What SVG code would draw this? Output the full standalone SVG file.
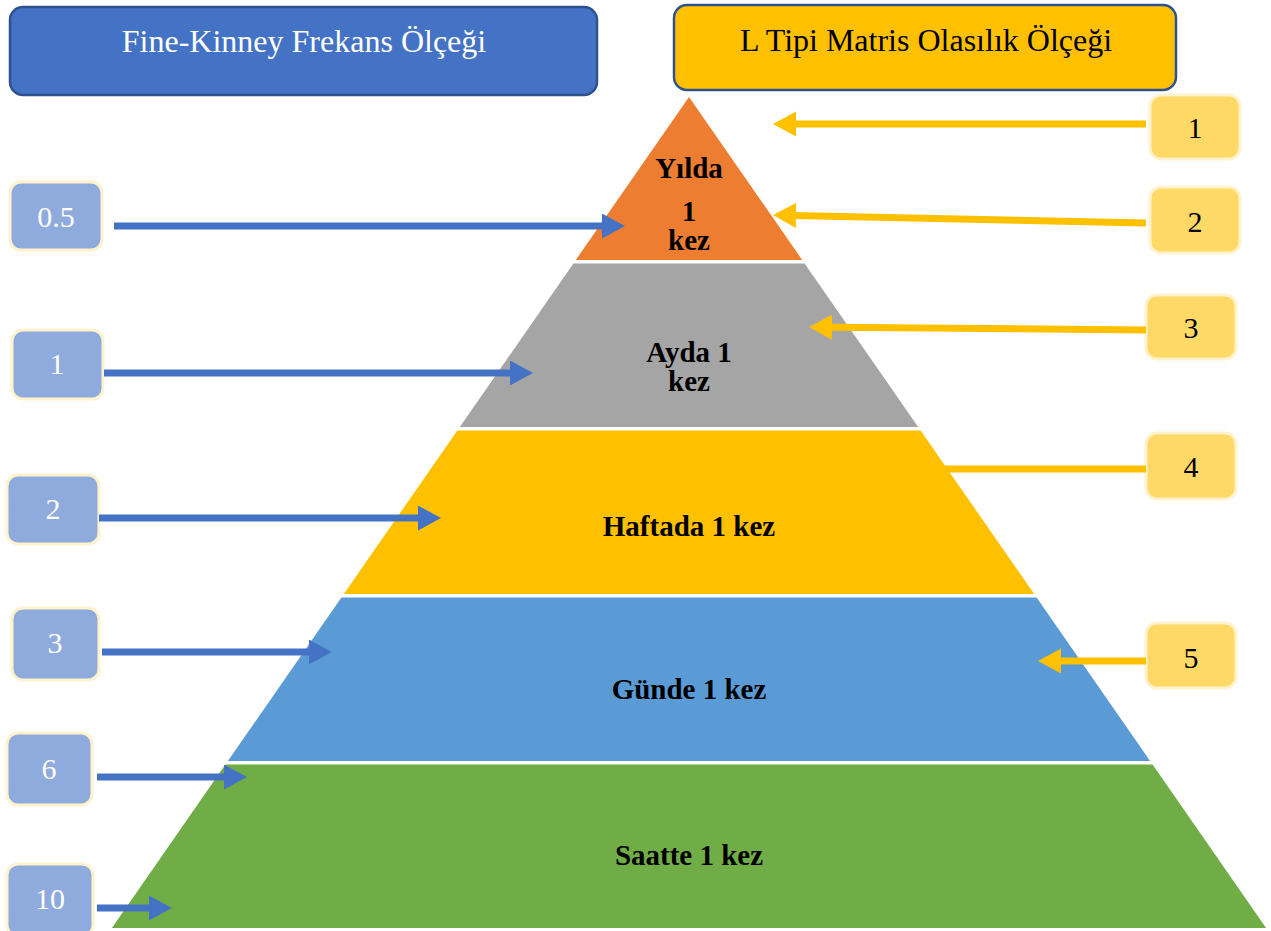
<svg xmlns="http://www.w3.org/2000/svg" width="1271" height="931" viewBox="0 0 1271 931">
<style>
.hdr{stroke:#2F528F;stroke-width:2.5}
.lb{fill:#8FAADC;stroke:#FFF2CC;stroke-width:3}
.rb{fill:#FFD966;stroke:#FFF2CC;stroke-width:3}
.t{font-family:"Liberation Serif","Times New Roman",serif;text-anchor:middle}
.lt{fill:#FFFFFF;font-size:30px}
.rt{fill:#000000;font-size:30px}
.bt{fill:#000000;font-size:29px;font-weight:bold}
.ca{stroke:#4472C4;stroke-width:7;fill:none}
.cy{stroke:#FFC000;stroke-width:7;fill:none}
</style>
<defs>
<marker id="ab" markerUnits="userSpaceOnUse" markerWidth="26" markerHeight="26" refX="2" refY="12.5" orient="auto">
<path d="M0,0 L23,12.5 L0,25 z" fill="#4472C4"/>
</marker>
<marker id="ay" markerUnits="userSpaceOnUse" markerWidth="26" markerHeight="26" refX="2" refY="12.5" orient="auto">
<path d="M0,0 L23,12.5 L0,25 z" fill="#FFC000"/>
</marker>
</defs>
<rect width="1271" height="931" fill="#FFFFFF"/>

<g id="header-fine-kinney">
<rect class="hdr" x="10" y="7" width="587" height="88" rx="13" fill="#4472C4"/>
<text class="t" x="304" y="52" fill="#FFFFFF" font-size="32">Fine-Kinney Frekans Ölçeği</text>
</g>
<g id="header-l-tipi">
<rect class="hdr" x="674" y="5" width="502" height="85" rx="13" fill="#FFC000"/>
<text class="t" x="926" y="51" fill="#000000" font-size="32">L Tipi Matris Olasılık Ölçeği</text>
</g>

<g id="band-yilda">
<polygon points="689,97 802.2,260 575.8,260" fill="#ED7D31"/>
<text class="t bt" x="689" y="178">Yılda</text>
<text class="t bt" x="689" y="221">1</text>
<text class="t bt" x="689" y="250">kez</text>
</g>
<g id="band-ayda">
<polygon points="573.4,263.5 804.6,263.5 918.2,427 459.8,427" fill="#A5A5A5"/>
<text class="t bt" x="689" y="362">Ayda 1</text>
<text class="t bt" x="689" y="391">kez</text>
</g>
<g id="band-haftada">
<polygon points="457.4,430.5 920.6,430.5 1034.2,594 343.8,594" fill="#FFC000"/>
<text class="t bt" x="689" y="536">Haftada 1 kez</text>
</g>
<g id="band-gunde">
<polygon points="341.4,597.5 1036.6,597.5 1150.1,761 227.9,761" fill="#5B9BD5"/>
<text class="t bt" x="689" y="699">Günde 1 kez</text>
</g>
<g id="band-saatte">
<polygon points="225.4,764.5 1152.6,764.5 1266.1,928 111.9,928" fill="#70AD47"/>
<text class="t bt" x="689" y="865">Saatte 1 kez</text>
</g>

<g id="fk-0-5"><rect class="lb" x="10" y="182" width="92" height="68" rx="11"/><text class="t lt" x="56" y="227">0.5</text></g>
<g id="fk-1"><rect class="lb" x="12" y="330" width="91" height="69" rx="11"/><text class="t lt" x="57" y="374">1</text></g>
<g id="fk-2"><rect class="lb" x="7" y="475" width="92" height="69" rx="11"/><text class="t lt" x="53" y="519">2</text></g>
<g id="fk-3"><rect class="lb" x="12" y="608" width="87" height="72" rx="11"/><text class="t lt" x="55" y="653">3</text></g>
<g id="fk-6"><rect class="lb" x="7" y="733" width="85" height="72" rx="11"/><text class="t lt" x="49" y="779">6</text></g>
<g id="fk-10"><rect class="lb" x="7" y="864" width="86" height="72" rx="11"/><text class="t lt" x="50" y="909">10</text></g>

<g id="lm-1"><rect class="rb" x="1150" y="95" width="90" height="64" rx="11"/><text class="t rt" x="1195" y="138">1</text></g>
<g id="lm-2"><rect class="rb" x="1150" y="187" width="90" height="66" rx="11"/><text class="t rt" x="1195" y="232">2</text></g>
<g id="lm-3"><rect class="rb" x="1146" y="295" width="90" height="64" rx="11"/><text class="t rt" x="1191" y="338">3</text></g>
<g id="lm-4"><rect class="rb" x="1146" y="433" width="90" height="66" rx="11"/><text class="t rt" x="1191" y="477">4</text></g>
<g id="lm-5"><rect class="rb" x="1146" y="623" width="90" height="65" rx="11"/><text class="t rt" x="1191" y="668">5</text></g>

<g id="connectors">
<line class="ca" x1="114" y1="226" x2="604" y2="226" marker-end="url(#ab)"/>
<line class="ca" x1="104" y1="373" x2="512" y2="373" marker-end="url(#ab)"/>
<line class="ca" x1="99" y1="518" x2="420" y2="518" marker-end="url(#ab)"/>
<line class="ca" x1="102" y1="652" x2="311" y2="652" marker-end="url(#ab)"/>
<line class="ca" x1="97" y1="777" x2="226" y2="777" marker-end="url(#ab)"/>
<line class="ca" x1="97" y1="908" x2="151" y2="908" marker-end="url(#ab)"/>
<line class="cy" x1="1146" y1="124" x2="794" y2="124" marker-end="url(#ay)"/>
<line class="cy" x1="1146" y1="223" x2="794" y2="215.4" marker-end="url(#ay)"/>
<line class="cy" x1="1146" y1="330" x2="830" y2="327.2" marker-end="url(#ay)"/>
<line class="cy" x1="1146" y1="469" x2="935" y2="469" marker-end="url(#ay)"/>
<line class="cy" x1="1146" y1="661" x2="1059" y2="661" marker-end="url(#ay)"/>
</g>
</svg>
